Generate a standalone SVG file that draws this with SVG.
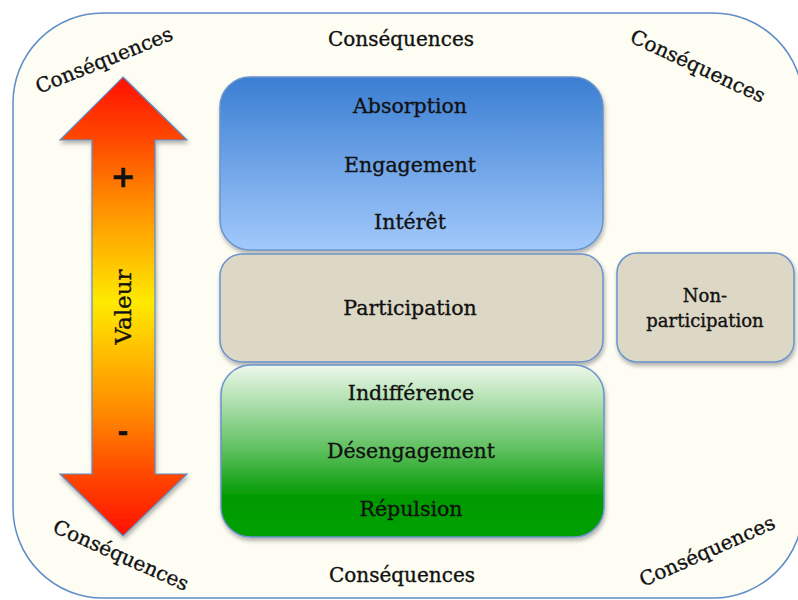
<svg xmlns="http://www.w3.org/2000/svg" width="798" height="600" viewBox="0 0 798 600">
<defs>
<linearGradient id="gArrow" x1="0" y1="77" x2="0" y2="536" gradientUnits="userSpaceOnUse">
<stop offset="0" stop-color="#FF1000"/>
<stop offset="0.14" stop-color="#FF4A00"/>
<stop offset="0.27" stop-color="#FF8A00"/>
<stop offset="0.49" stop-color="#FFEA00"/>
<stop offset="0.73" stop-color="#FF8A00"/>
<stop offset="0.86" stop-color="#FF4A00"/>
<stop offset="1" stop-color="#FF1000"/>
</linearGradient>
<linearGradient id="gBlue" x1="0" y1="0" x2="0" y2="1">
<stop offset="0" stop-color="#3A7ED2"/>
<stop offset="1" stop-color="#A2C9FB"/>
</linearGradient>
<linearGradient id="gGreen" x1="0" y1="0" x2="0" y2="1">
<stop offset="0" stop-color="#EEF8EC"/>
<stop offset="0.5" stop-color="#5CBF5C"/>
<stop offset="0.77" stop-color="#009A00"/>
<stop offset="1" stop-color="#00A000"/>
</linearGradient>
<filter id="sh" x="-10%" y="-10%" width="120%" height="130%">
<feDropShadow dx="1" dy="3" stdDeviation="2" flood-color="#000" flood-opacity="0.3"/>
</filter>
<style>
.t{font-family:"DejaVu Serif","Liberation Serif",serif;fill:#111;stroke:#111;stroke-width:0.35;text-anchor:middle}
.m{font-size:20.5px}
.c{font-size:20px}
.s{font-size:18px}
.box{stroke:#6A93CC;stroke-width:1.5}
</style>
</defs>
<rect x="0" y="0" width="798" height="600" fill="#FFFFFF"/>
<g id="frame">
<rect x="13" y="13" width="790" height="585" rx="90" ry="90" fill="#FDFDF3" stroke="#5E8DC8" stroke-width="1.5"/>
</g>
<g id="consequences">
<text class="t c" x="401" y="46">Conséquences</text>
<text class="t c" x="402" y="582">Conséquences</text>
<text class="t c" transform="translate(104,60) rotate(-22)" x="0" y="7">Conséquences</text>
<text class="t c" transform="translate(698,66) rotate(25)" x="0" y="7">Conséquences</text>
<text class="t c" transform="translate(121,555) rotate(24)" x="0" y="7">Conséquences</text>
<text class="t c" transform="translate(707,551) rotate(-24)" x="0" y="7">Conséquences</text>
</g>
<g id="valeur">
<path d="M123,77 L187,140 L155,140 L155,474 L187,474 L123,536 L60,474 L92,474 L92,140 L60,140 Z" fill="url(#gArrow)" stroke="#5E8DC8" stroke-width="1.2" filter="url(#sh)"/>
<text class="t" x="123" y="187" style="font-size:30px;font-weight:bold;font-family:'DejaVu Sans',sans-serif">+</text>
<text class="t" transform="translate(131,307) rotate(-90)" x="0" y="0" style="font-size:23px">Valeur</text>
<text class="t" x="123" y="441" style="font-size:26px;font-weight:bold;font-family:'DejaVu Sans',sans-serif">-</text>
</g>
<g id="engagement">
<rect class="box" x="220" y="77" width="383" height="173" rx="30" fill="url(#gBlue)" filter="url(#sh)"/>
<text class="t m" x="410" y="113">Absorption</text>
<text class="t m" x="410" y="172">Engagement</text>
<text class="t m" x="410" y="229">Intérêt</text>
</g>
<g id="participation">
<rect class="box" x="220" y="254" width="383" height="108" rx="22" fill="#DDD8C6" filter="url(#sh)"/>
<text class="t m" x="410" y="315">Participation</text>
</g>
<g id="desengagement">
<rect class="box" x="221" y="365" width="383" height="172" rx="30" fill="url(#gGreen)" filter="url(#sh)"/>
<text class="t m" x="411" y="400">Indifférence</text>
<text class="t m" x="411" y="458">Désengagement</text>
<text class="t m" x="411" y="516">Répulsion</text>
</g>
<g id="non-participation">
<rect class="box" x="617" y="253" width="177" height="109" rx="20" fill="#DDD8C6" filter="url(#sh)"/>
<text class="t s" x="705" y="302">Non-</text>
<text class="t s" x="705" y="327">participation</text>
</g>
<g id="connectors"></g>
</svg>
